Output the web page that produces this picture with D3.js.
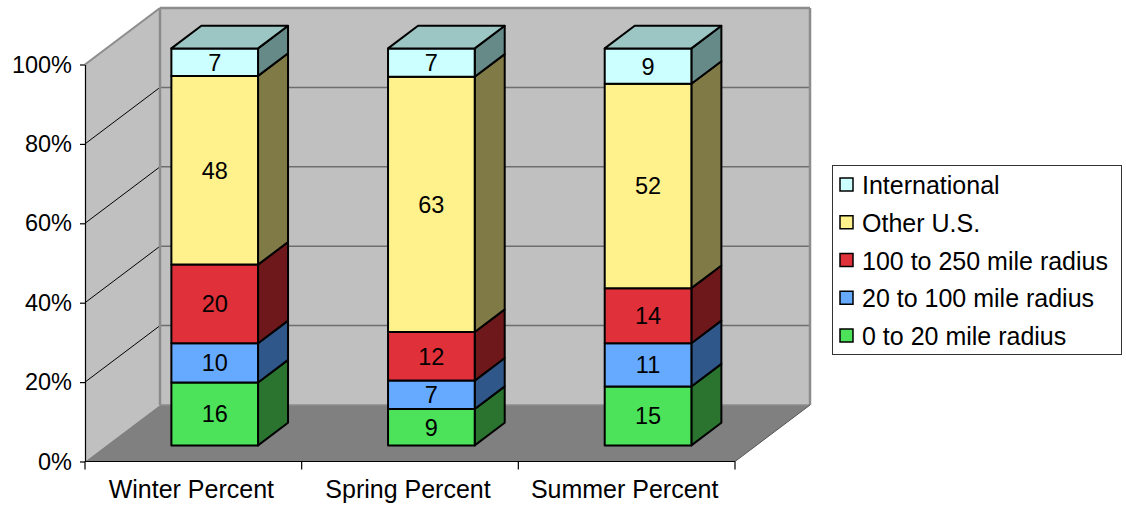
<!DOCTYPE html>
<html>
<head>
<meta charset="utf-8">
<script src="https://cdn.jsdelivr.net/npm/d3@7"></script>
<style>
  html, body { margin: 0; padding: 0; background: #ffffff; }
  svg { display: block; font-family: "Liberation Sans", Arial, sans-serif; }
</style>
</head>
<body>
<svg id="chart" width="1126" height="506"></svg>
<script>
// Trip origin share by season (stacked to 100%)
const categories = ["Winter Percent", "Spring Percent", "Summer Percent"];
const seriesNames = ["0 to 20 mile radius", "20 to 100 mile radius", "100 to 250 mile radius", "Other U.S.", "International"];
const radius0to20 = [16, 9, 15];
const radius20to100 = [10, 7, 11];
const radius100to250 = [20, 12, 14];
const otherUS = [48, 63, 52];
const international = [7, 7, 9];
const tickLabels = ["0%", "20%", "40%", "60%", "80%", "100%"];

const seriesValues = [radius0to20, radius20to100, radius100to250, otherUS, international];
const frontColors = ["#4ce35a", "#66aaff", "#e0303a", "#fff28c", "#ccffff"];
const sideColors  = ["#2a7430", "#30578a", "#6e181c", "#807a46", "#668a88"];
const topColors   = ["#3aaa44", "#4d80bf", "#a82430", "#bfb569", "#9cc6c3"];

const rows = categories.map((c, i) => {
  const r = { category: c };
  seriesNames.forEach((s, k) => { r[s] = seriesValues[k][i]; });
  return r;
});
const stacked = d3.stack().keys(seriesNames).offset(d3.stackOffsetExpand)(rows);

const svg = d3.select("#chart");

// oblique 3D projection: full depth shifts points right and up
const DX = 75, DY = -56.5;
const proj = (x, y, d) => [x + d * DX, y + d * DY];

const x = d3.scaleBand().domain(categories).range([85, 735]).paddingInner(0.6).paddingOuter(0.3);
const y = d3.scaleLinear().domain([0, 1]).range([461.5, 64.5]);
const xLeft = 85, xRight = 735;
const dFront = 0.285, dBack = 0.685;

const poly = pts => pts.map(p => p.join(",")).join(" ");

// walls and floor
const y0 = y(0), y1 = y(1);
svg.append("polygon")
  .attr("points", poly([proj(xLeft, y0, 0), proj(xLeft, y1, 0), proj(xLeft, y1, 1), proj(xLeft, y0, 1)]))
  .attr("fill", "#c0c0c0");
svg.append("polygon")
  .attr("points", poly([proj(xLeft, y0, 1), proj(xLeft, y1, 1), proj(xRight, y1, 1), proj(xRight, y0, 1)]))
  .attr("fill", "#c0c0c0");
svg.append("polygon")
  .attr("points", poly([proj(xLeft, y0, 0), proj(xRight, y0, 0), proj(xRight, y0, 1), proj(xLeft, y0, 1)]))
  .attr("fill", "#808080");

// gridlines
const gridVals = d3.range(1, 5).map(i => i / 5);
svg.append("g").selectAll("line.back").data(gridVals).join("line")
  .attr("x1", d => proj(xLeft, y(d), 1)[0]).attr("y1", d => proj(xLeft, y(d), 1)[1])
  .attr("x2", d => proj(xRight, y(d), 1)[0]).attr("y2", d => proj(xRight, y(d), 1)[1])
  .attr("stroke", "#6e6e6e").attr("stroke-width", 1.5);
svg.append("g").selectAll("line.side").data(gridVals).join("line")
  .attr("x1", d => proj(xLeft, y(d), 0)[0]).attr("y1", d => proj(xLeft, y(d), 0)[1])
  .attr("x2", d => proj(xLeft, y(d), 1)[0]).attr("y2", d => proj(xLeft, y(d), 1)[1])
  .attr("stroke", "#000").attr("stroke-width", 1);

// wall edges
const edge = (a, b, col, w) => svg.append("line")
  .attr("x1", a[0]).attr("y1", a[1]).attr("x2", b[0]).attr("y2", b[1])
  .attr("stroke", col).attr("stroke-width", w);
edge(proj(xLeft, y1, 0), proj(xLeft, y1, 1), "#8c8c8c", 2);
edge(proj(xLeft, y1, 1), proj(xRight, y1, 1), "#8c8c8c", 2.5);
edge(proj(xRight, y1, 1), proj(xRight, y0, 1), "#8c8c8c", 2.5);
edge(proj(xLeft, y0, 1), proj(xLeft, y1, 1), "#8c8c8c", 2.5);
edge(proj(xLeft, y0, 1), proj(xRight, y0, 1), "#8c8c8c", 1.5);
edge(proj(xRight, y0, 0), proj(xRight, y0, 1), "#555", 1);

// bars
const bars = svg.append("g");
categories.forEach((c, i) => {
  const xa = x(c), xb = x(c) + x.bandwidth();
  stacked.forEach((layer, k) => {
    const lo = y(layer[i][0]), hi = y(layer[i][1]);
    const g = bars.append("g");
    g.append("polygon")
      .attr("points", poly([proj(xb, lo, dFront), proj(xb, hi, dFront), proj(xb, hi, dBack), proj(xb, lo, dBack)]))
      .attr("fill", sideColors[k]).attr("stroke", "#000").attr("stroke-width", 2).attr("stroke-linejoin", "round");
    g.append("polygon")
      .attr("points", poly([proj(xa, lo, dFront), proj(xb, lo, dFront), proj(xb, hi, dFront), proj(xa, hi, dFront)]))
      .attr("fill", frontColors[k]).attr("stroke", "#000").attr("stroke-width", 2).attr("stroke-linejoin", "round");
    if (k === stacked.length - 1) {
      g.append("polygon")
        .attr("points", poly([proj(xa, hi, dFront), proj(xb, hi, dFront), proj(xb, hi, dBack), proj(xa, hi, dBack)]))
        .attr("fill", topColors[k]).attr("stroke", "#000").attr("stroke-width", 2).attr("stroke-linejoin", "round");
    }
    const c0 = proj((xa + xb) / 2, (lo + hi) / 2, dFront);
    g.append("text")
      .attr("x", c0[0]).attr("y", c0[1]).attr("dy", "0.36em")
      .attr("text-anchor", "middle").attr("font-size", 23.5).attr("fill", "#000")
      .text(seriesValues[k][i]);
  });
});

// value axis
const yAxis = d3.axisLeft(y).tickValues(d3.range(0, 6).map(i => i / 5))
  .tickFormat((d, i) => tickLabels[i]).tickSizeInner(5).tickSizeOuter(0).tickPadding(8);
const ya = svg.append("g").attr("transform", `translate(${xLeft},0)`).call(yAxis);
ya.select(".domain").attr("stroke", "#000").attr("stroke-width", 1.2);
ya.selectAll(".tick line").attr("stroke", "#000").attr("stroke-width", 1.2);
ya.selectAll("text").attr("font-size", 23.5).attr("fill", "#000").attr("font-family", "Liberation Sans, Arial, sans-serif");

// category axis
const xEdges = d3.scalePoint().domain(d3.range(0, 4)).range([xLeft, xRight]);
const xa = svg.append("g").attr("transform", `translate(0,${y0})`);
xa.append("line").attr("x1", xLeft).attr("x2", xRight).attr("stroke", "#000").attr("stroke-width", 1.2);
xa.selectAll("line.tick").data(d3.range(0, 4)).join("line")
  .attr("x1", d => xEdges(d)).attr("x2", d => xEdges(d)).attr("y1", 0).attr("y2", 8)
  .attr("stroke", "#000").attr("stroke-width", 1.2);
xa.selectAll("text").data(categories).join("text")
  .attr("x", d => x(d) + x.bandwidth() / 2 - 2).attr("y", 36)
  .attr("text-anchor", "middle").attr("font-size", 25).attr("fill", "#000")
  .text(d => d);

// legend
const legend = svg.append("g");
legend.append("rect").attr("x", 832.5).attr("y", 165.5).attr("width", 289).attr("height", 189)
  .attr("fill", "#fff").attr("stroke", "#333").attr("stroke-width", 1);
const legendOrder = d3.range(seriesNames.length).reverse();
const ly = d3.scalePoint().domain(legendOrder).range([185, 336]);
legendOrder.forEach(k => {
  legend.append("rect").attr("x", 840).attr("y", ly(k) - 7).attr("width", 13).attr("height", 13)
    .attr("fill", frontColors[k]).attr("stroke", "#000").attr("stroke-width", 1.5);
  legend.append("text").attr("x", 862).attr("y", ly(k)).attr("dy", "0.36em")
    .attr("font-size", 25).attr("fill", "#000").text(seriesNames[k]);
});
</script>
</body>
</html>
